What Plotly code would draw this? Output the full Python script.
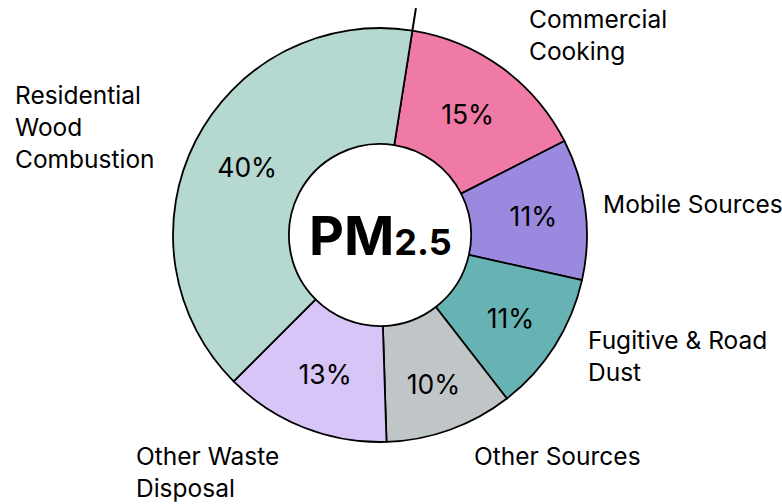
import math
import plotly.graph_objects as go

# ---- data ----
categories = ["Commercial Cooking", "Mobile Sources", "Fugitive & Road Dust",
              "Other Sources", "Other Waste Disposal", "Residential Wood Combustion"]
shares = [15, 11, 11, 10, 13, 40]
label_texts = ["Commercial<br>Cooking", "Mobile Sources", "Fugitive & Road<br>Dust",
               "Other Sources", "Other Waste<br>Disposal", "Residential<br>Wood<br>Combustion"]
colors = ["#F07AA6", "#9B89DF", "#67B2B3", "#C0C5C8", "#D6C5F6", "#B5D8D0"]
center_label = "PM"
center_sub = "2.5"

W, H = 782, 504
FONT = "Inter"

def px(x):
    return x / W

def py(y):
    return 1 - y / H

# pie geometry (pixels)
cx, cy, R = 380, 235, 207
hole = 0.44
rotation = 9

fig = go.Figure(go.Pie(
    labels=categories,
    values=shares,
    sort=False,
    direction="clockwise",
    rotation=rotation,
    hole=hole,
    marker=dict(colors=colors, line=dict(color="black", width=1.8)),
    texttemplate="%{value}%",
    textposition="inside",
    insidetextorientation="horizontal",
    textfont=dict(family=FONT, size=26.5, color="black"),
    domain=dict(x=[px(cx - R), px(cx + R)], y=[py(cy + R), py(cy - R)]),
    showlegend=False,
    hoverinfo="label+percent",
))

# leader line continuing the first slice boundary above the ring
ang = math.radians(rotation)
r0, r1 = R, R * 1.11
fig.add_shape(type="line", xref="paper", yref="paper",
              x0=px(cx + r0 * math.sin(ang)), y0=py(cy - r0 * math.cos(ang)),
              x1=px(cx + r1 * math.sin(ang)), y1=py(cy - r1 * math.cos(ang)),
              line=dict(color="black", width=2))

# outside category labels (left x, block-middle y in pixels)
label_pos = [(527, 35), (601, 204), (586, 356), (472, 456), (134, 472), (13, 127)]
for txt, (lx, ly) in zip(label_texts, label_pos):
    fig.add_annotation(text=txt, x=px(lx), y=py(ly), xref="paper", yref="paper",
                       xanchor="left", yanchor="middle", align="left", showarrow=False,
                       font=dict(family=FONT, size=24.5, color="black"))

fig.add_annotation(text=f"<b>{center_label}<span style='font-size:36px'>{center_sub}</span></b>",
                   x=px(cx), y=py(cy), xref="paper", yref="paper",
                   xanchor="center", yanchor="middle", showarrow=False,
                   font=dict(family=FONT, size=54, color="black"))

fig.update_layout(width=W, height=H, margin=dict(l=0, r=0, t=0, b=0),
                  paper_bgcolor="white", plot_bgcolor="white")
fig.write_html("out.html", config={"displayModeBar": False},
               post_script="document.body.style.margin='0';")
